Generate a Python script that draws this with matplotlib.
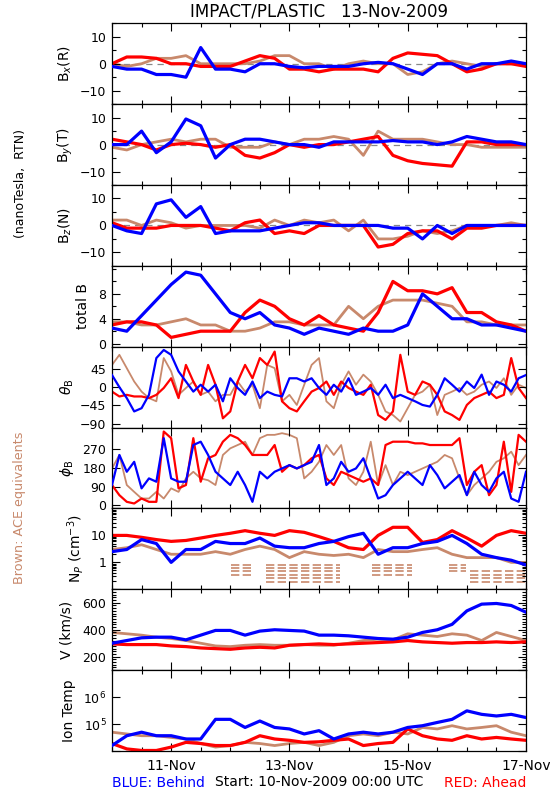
import numpy as np
import matplotlib
matplotlib.use('Agg')
import matplotlib.pyplot as plt
from matplotlib.ticker import MultipleLocator, FixedLocator, FixedFormatter, LogLocator, NullFormatter

# time axes: days since 10-Nov-2009 00:00 UTC
days = np.arange(29) * 0.25     # 6-hourly
days3 = np.arange(57) * 0.125   # 3-hourly (angles)

# B components (nT, RTN)
bx_ace = [0, -1, 0, 2, 2, 3, 0, 0, 0, 0, 1, 3, 3, 0, 0, -2, 0, 1, 0, 0, -4, -3, 0, 1, 0, -1, 0, 0, 0]
bx_ahead = [0, 2.5, 2.5, 2, 0, 0, -1, -1, -1, 1, 3, 2, -2, -2, -3, -2, -2, -2, -3, 2, 4, 3.5, 3, 0, -3, -2, 0, 0, -1]
bx_behind = [-1, -2, -2, -4, -4, -5, 6, -2, -2, -3, 0, 0, -1, -1.5, -1, -1, -1, 0, 0.5, 0, -2, -4, 0, 0, -2, 0, 0, 1, 0]

by_ace = [-1, -2, 0, 1, 2, 1, 2, 2, -1, -1, -1, 1, 0, 2, 2, 3, 2, -4, 5, 2, 2, 2, 1, 0, 0, -1, -1, -1, -1]
by_ahead = [2, 1, 0, -2, 0, 0.5, 0, -1, 0, -4, -5, -3, 0, -1, 0, 0, 1, 2, 3, -4, -6, -7, -7.5, -8, 1, 1, 0, 0, 0]
by_behind = [0, 0, 5, -3, 1, 9.5, 7, -5, 0, 2, 2, 1, 0, 0, -1, 1, 1, 1, 1, 1.5, 1, 1, 0, 1, 3, 2, 1, 1, 0]

bz_ace = [2, 2, 0, 2, 1, -1, 0, 0, 0, 0, -1, 2, 0, 2, 1, 2, -2, 2, -5, -5, -4, -2, -3, -2, 0, 0, 0, 1, 0]
bz_ahead = [1, -1, -1, -1, 0, 0, 0, -1, -2, 1, 2, -3, -2, -3, 0, 0, 0, 0, -8, -7, -3, -2, -2, -5, -1, -1, 0, 0, 0]
bz_behind = [0, -2, -3, 8, 9.5, 3, 7, -3, -2, -2, -2, -1, 0, 1, 1, 0, 0, 0, 0, -1, -1, -5, 0, -3, 0, 0, 0, 0, 0]

bt_ace = [3.5, 3.5, 3, 3, 3.5, 4, 3, 3, 2, 2, 2.5, 3.5, 3.5, 3, 3, 3, 6, 4, 6, 7, 7, 7, 6.5, 6, 3.5, 3.5, 3, 3, 3]
bt_ahead = [3, 3.5, 3.5, 3, 1, 1.5, 2, 2, 2, 5, 7, 6, 4, 3, 4.5, 3, 2.5, 2, 5, 10, 8.5, 8.5, 8, 9, 5, 5, 3.5, 3, 2]
bt_behind = [2.5, 2, 4.5, 7, 9.5, 11.5, 11, 8, 5, 4, 5, 3, 2.5, 1.5, 2.5, 2, 1.5, 2.5, 2, 2, 3, 8, 6, 4, 4, 3, 3, 2.5, 2]

# field angles (deg), 3-hourly
theta_ace = [55, 80, 47, 14, -11, -27, -35, 72, 39, -19, -2, 14, -19, -11, -35, -19, -19, 14, -11, 6, -52, 55, 47, -35,
             -19, -44, 6, 55, 72, -35, -52, 6, 39, 6, 31, 14, -19, -60, -69, -85, -52, -19, -11, 6, -69, -19, -11, -2,
             -19, -11, 6, 14, -2, 22, -19, 6, -2]
theta_ahead = [-11, -23, -19, -23, -23, -27, -19, -2, 22, -27, 55, 14, -19, 55, 6, -77, -60, 14, 55, 22, 72, 55, 88, -35,
               -52, -60, -35, -11, -2, 14, -19, 14, -2, -11, -19, 6, -69, -81, -60, 80, -11, -19, 14, 6, -19, -60, -69,
               -81, -44, -27, -19, -11, -27, -19, 72, -2, -27]
theta_behind = [30, 0, -27, -60, -52, -19, 72, 92, 80, 39, 14, -11, 6, -11, 6, -35, 22, -2, -19, 14, -27, -11, -19, -23,
                22, 22, 14, 22, -2, -19, 6, -11, 22, -19, -11, -2, -19, 6, -27, -19, -27, -35, -44, -48, -19, 22, 6, -11,
                14, -2, 31, -19, 14, 6, -11, 22, 30]

phi_ace = [178, 243, 98, 65, 33, 33, 65, 33, 82, 65, 130, 162, 130, 121, 98, 243, 275, 291, 307, 243, 324, 340, 340, 348,
           340, 324, 130, 162, 210, 291, 243, 291, 130, 98, 162, 307, 98, 194, 98, 162, 146, 162, 178, 194, 210, 243,
           227, 130, 49, 98, 130, 162, 210, 227, 259, 194, 243]
phi_ahead = [98, 49, 17, 9, 33, 17, 17, 356, 324, 82, 98, 324, 114, 227, 243, 307, 340, 324, 291, 243, 243, 243, 291, 162,
             194, 178, 194, 227, 243, 130, 98, 162, 146, 130, 114, 130, 98, 291, 307, 307, 307, 299, 299, 291, 291, 291,
             291, 324, 98, 162, 194, 49, 98, 307, 65, 340, 307]
phi_behind = [98, 243, 162, 210, 82, 130, 114, 324, 130, 114, 114, 291, 307, 243, 162, 130, 98, 162, 98, 17, 162, 130, 162,
              178, 194, 178, 194, 210, 291, 98, 130, 210, 162, 178, 227, 130, 33, 49, 98, 130, 162, 130, 98, 194, 146, 82,
              114, 146, 49, 162, 98, 65, 130, 162, 33, 17, 162]

# proton density (cm^-3)
np_ace = [3, 3.5, 4.5, 3, 2, 2, 2, 2.5, 2, 3, 4, 3, 1.5, 2.5, 2, 1.8, 2, 1.5, 3, 2.5, 2.5, 3, 3.5, 2, 1.5, 1.5, 1.5, 1, 1]
np_ahead = [10, 10, 8.5, 7, 6, 6.5, 8, 10, 12, 15, 12, 10, 15, 13, 9, 6, 3.5, 3, 10, 20, 20, 5.5, 7, 15, 8, 4, 10, 15, 12]
np_behind = [2.5, 3, 7, 5, 1, 3, 3, 6, 5, 5, 8, 4, 3.5, 3.5, 5, 6, 9, 12, 2, 3.5, 3.5, 5, 6, 10, 5, 2, 1.5, 1.2, 0.8]
# ACE low-density quantised levels and the day ranges where they show up
np_ace_levels = [0.78, 0.6, 0.46, 0.35, 0.26, 0.19]
np_ace_spans = [(2.02, 2.38, 0, 4), (2.6, 3.86, 0, 6), (4.4, 5.08, 0, 4), (5.7, 5.98, 0, 3), (6.06, 7.0, 2, 6)]

# bulk speed (km/s)
v_ace = [380, 370, 360, 345, 335, 320, 300, 280, 275, 285, 290, 285, 285, 290, 285, 285, 300, 320, 330, 325, 370, 360, 350, 370, 360, 320, 380, 350, 320]
v_ahead = [295, 290, 290, 290, 280, 275, 265, 260, 255, 265, 270, 265, 285, 290, 295, 290, 295, 300, 305, 310, 320, 310, 305, 300, 305, 305, 310, 305, 310]
v_behind = [300, 320, 340, 345, 345, 325, 360, 395, 395, 360, 390, 400, 395, 390, 360, 360, 355, 345, 335, 330, 345, 380, 400, 440, 540, 590, 595, 580, 530]

# ion temperature (K)
t_ace = [5.0e4, 4.3e4, 3.7e4, 3.7e4, 3.2e4, 2.8e4, 1.9e4, 1.4e4, 1.6e4, 2.1e4, 1.9e4, 1.6e4, 1.9e4, 2.1e4, 1.6e4, 2.1e4,
         3.7e4, 4.3e4, 3.7e4, 5.0e4, 4.3e4, 7.5e4, 6.6e4, 8.7e4, 6.6e4, 7.5e4, 8.7e4, 5.0e4, 3.7e4]
t_ahead = [1.9e4, 1.2e4, 1.05e4, 1.05e4, 1.4e4, 2.1e4, 1.9e4, 1.6e4, 1.6e4, 2.1e4, 3.7e4, 2.8e4, 2.5e4, 2.1e4, 2.2e4, 2.5e4,
           2.8e4, 1.6e4, 1.9e4, 2.1e4, 6.6e4, 3.7e4, 2.8e4, 2.5e4, 3.7e4, 2.8e4, 3.2e4, 2.8e4, 2.5e4]
t_behind = [1.6e4, 3.7e4, 5.0e4, 3.7e4, 3.7e4, 2.8e4, 2.8e4, 1.5e5, 1.5e5, 7.5e4, 1.3e5, 7.5e4, 6.6e4, 4.3e4, 5.7e4, 2.8e4,
            4.3e4, 5.0e4, 4.3e4, 5.0e4, 7.5e4, 8.7e4, 1.15e5, 1.5e5, 3.1e5, 2.3e5, 2.0e5, 2.3e5, 1.75e5]

date_ticks = [1, 3, 5, 7]
date_labels = ['11-Nov', '13-Nov', '15-Nov', '17-Nov']

BLUE = '#0000ff'
RED = '#ff0000'
BROWN = '#c8896c'

W, H = 550, 800
plt.rcParams['font.family'] = ['DejaVu Sans']
fig = plt.figure(figsize=(W / 100, H / 100), dpi=100)


def fx(x):
    return x / W


def fy(y):
    return 1 - y / H


left, right = 112, 526
top, panel_h = 23.3, 80.86

panels = [
    # t, ace, ahead, behind, ylim, yticks, ticklabels, minor, label, label x (px), log
    (days, bx_ace, bx_ahead, bx_behind, (-15, 15), [-10, 0, 10], None, 5, r'B$_x$(R)', 65, False),
    (days, by_ace, by_ahead, by_behind, (-15, 15), [-10, 0, 10], None, 5, r'B$_y$(T)', 65, False),
    (days, bz_ace, bz_ahead, bz_behind, (-15, 15), [-10, 0, 10], None, 5, r'B$_z$(N)', 65, False),
    (days, bt_ace, bt_ahead, bt_behind, (-0.5, 12.5), [0, 4, 8], None, 2, 'total B', 83, False),
    (days3, theta_ace, theta_ahead, theta_behind, (-100, 100), [-90, -45, 0, 45], None, None,
     r'$\theta_{\rm B}$', 67, False),
    (days3, phi_ace, phi_ahead, phi_behind, (-15, 375), [0, 90, 180, 270], None, None, r'$\phi_{\rm B}$', 67, False),
    (days, np_ace, np_ahead, np_behind, (0.1, 100), [0.1, 1, 10, 100], ['', '1', '10', ''], None,
     r'N$_P$ (cm$^{-3}$)', 75, True),
    (days, v_ace, v_ahead, v_behind, (100, 700), [200, 400, 600], None, 20, 'V (km/s)', 66, False),
    (days, t_ace, t_ahead, t_behind, (1e4, 1e7), [1e4, 1e5, 1e6, 1e7], ['', r'$10^5$', r'$10^6$', ''], None,
     'Ion Temp', 69, True),
]

for i, (t, ace, ahead, behind, ylim, yt, ytl, minor, label, lx, logy) in enumerate(panels):
    y0 = top + i * panel_h
    ax = fig.add_axes([fx(left), fy(y0 + panel_h), (right - left) / W, panel_h / H])
    if logy:
        ax.set_yscale('log')
    if i < 3:
        ax.axhline(0, color='#888888', lw=0.9, ls=(0, (5, 4)), zorder=0.5)
    # noisy 1-min data in the original shows up as thick ribbons
    thin = 1.3 if t is days3 else 2.0
    ax.plot(t, ace, color=BROWN, lw=thin, zorder=1)
    ax.plot(t, ahead, color=RED, lw=thin + 0.3, zorder=2)
    ax.plot(t, behind, color=BLUE, lw=thin + 0.3, zorder=3)
    if i == 6:
        for d0, d1, k0, k1 in np_ace_spans:
            ax.hlines(np_ace_levels[k0:k1], d0, d1, colors=BROWN, lw=1.2, linestyles=(0, (5, 2)), zorder=1)

    ax.set_xlim(0, 7)
    ax.set_ylim(*ylim)
    ax.yaxis.set_major_locator(FixedLocator(yt))
    if ytl is not None:
        ax.yaxis.set_major_formatter(FixedFormatter(ytl))
    if logy and i == 6:
        ax.yaxis.set_minor_locator(LogLocator(base=10, subs=np.arange(2, 10)))
        ax.yaxis.set_minor_formatter(NullFormatter())
    elif logy:
        ax.yaxis.set_minor_locator(FixedLocator([]))
    elif minor:
        ax.yaxis.set_minor_locator(MultipleLocator(minor))

    ax.xaxis.set_major_locator(FixedLocator(date_ticks))
    ax.xaxis.set_minor_locator(MultipleLocator(0.5))
    ax.tick_params(which='both', direction='in', top=True, right=True, width=0.8, labelsize=9, pad=4)
    ax.tick_params(which='major', length=6)
    ax.tick_params(which='minor', length=3)
    if i == len(panels) - 1:
        ax.set_xticklabels(date_labels)
        ax.tick_params(axis='x', pad=6, labelsize=10)
    else:
        ax.set_xticklabels([])
    for s in ax.spines.values():
        s.set_linewidth(0.9)

    ax.set_ylabel(label, fontsize=10, va='center')
    ax.yaxis.set_label_coords((lx - left) / (right - left), 0.5)

fig.text(fx(319), fy(12), 'IMPACT/PLASTIC   13-Nov-2009', ha='center', va='center', fontsize=12)
fig.text(fx(21), fy(184), '(nanoTesla,  RTN)', rotation=90, ha='center', va='center', fontsize=9)
fig.text(fx(20), fy(508), 'Brown: ACE equivalents', rotation=90, ha='center', va='center', fontsize=9.2, color=BROWN)
fig.text(fx(112), fy(783), 'BLUE: Behind', ha='left', va='center', fontsize=10, color=BLUE)
fig.text(fx(319), fy(782), 'Start: 10-Nov-2009 00:00 UTC', ha='center', va='center', fontsize=10)
fig.text(fx(526), fy(783), 'RED: Ahead', ha='right', va='center', fontsize=10, color=RED)

fig.savefig('out.png', dpi=100)
